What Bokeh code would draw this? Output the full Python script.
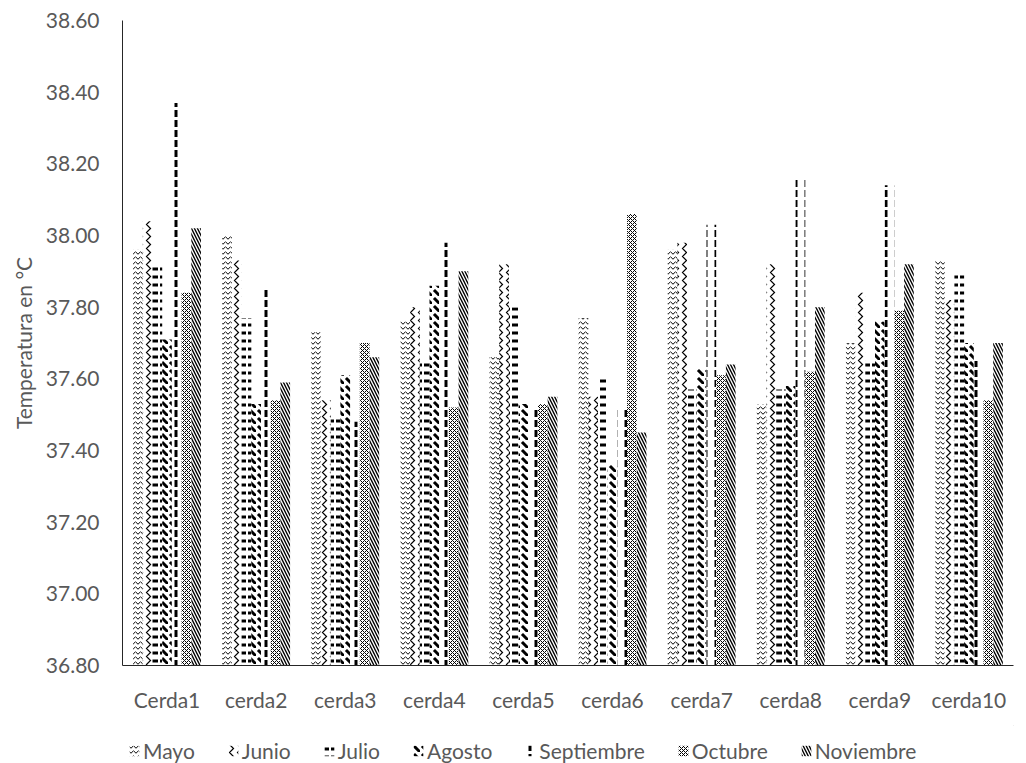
from bokeh.plotting import figure
from bokeh.layouts import column
from bokeh.models import (FactorRange, Range1d, Legend, LegendItem, ColumnDataSource,
                          FixedTicker, NumeralTickFormatter)
from bokeh.transform import dodge
from bokeh.embed import file_html
from bokeh.resources import INLINE

# Mean body temperature (°C) per sow and month
cerdas = ["Cerda1", "cerda2", "cerda3", "cerda4", "cerda5",
          "cerda6", "cerda7", "cerda8", "cerda9", "cerda10"]
meses = ["Mayo", "Junio", "Julio", "Agosto", "Septiembre", "Octubre", "Noviembre"]

mayo       = [37.96, 38.00, 37.73, 37.76, 37.66, 37.77, 37.96, 37.53, 37.70, 37.93]
junio      = [38.04, 37.93, 37.54, 37.80, 37.92, 37.55, 37.98, 37.92, 37.84, 37.82]
julio      = [37.92, 37.77, 37.49, 37.65, 37.80, 37.61, 37.57, 37.57, 37.65, 37.90]
agosto     = [37.71, 37.53, 37.61, 37.86, 37.53, 37.36, 37.63, 37.58, 37.76, 37.70]
septiembre = [38.37, 37.85, 37.48, 37.98, 37.52, 37.52, 38.03, 38.16, 38.14, 37.65]
octubre    = [37.84, 37.54, 37.70, 37.52, 37.53, 38.06, 37.61, 37.62, 37.79, 37.54]
noviembre  = [38.02, 37.59, 37.66, 37.90, 37.55, 37.45, 37.64, 37.80, 37.92, 37.70]

yticks = [36.80, 37.00, 37.20, 37.40, 37.60, 37.80, 38.00, 38.20, 38.40, 38.60]

series = [mayo, junio, julio, agosto, septiembre, octubre, noviembre]

# hatch pattern, scale and weight for each month
hatches = [
    ("v", 5, 1.0),     # Mayo
    (">", 8, 1.2),     # Junio
    ('"', 8, 3.0),     # Julio
    ("`", 8, 3.0),     # Agosto
    (":", 10, 3.0),    # Septiembre
    ("x", 4, 1.0),     # Octubre
    ("\\", 6, 1.4),    # Noviembre
]

FONT = "Lato"
TXT = "#595959"
FS = "21px"

data = {"cerda": cerdas}
for name, vals in zip(meses, series):
    data[name] = vals
source = ColumnDataSource(data)

p = figure(width=1026, height=725,
           x_range=FactorRange(*cerdas, range_padding=0, factor_padding=0),
           y_range=Range1d(36.8, 38.6),
           output_backend="svg", toolbar_location=None,
           min_border_left=122, min_border_right=13,
           min_border_top=20, min_border_bottom=60)

bar_w = 1.0 / (7 + 2.19)
for i, name in enumerate(meses):
    pat, sc, wt = hatches[i]
    p.vbar(x=dodge("cerda", (i - 3) * bar_w, range=p.x_range), top=name,
           bottom=36.8, width=bar_w, source=source,
           fill_color="white", line_color=None,
           hatch_pattern=pat, hatch_scale=sc, hatch_weight=wt,
           hatch_color="black")

# axes
p.xgrid.visible = False
p.ygrid.visible = False
p.outline_line_color = None

p.yaxis.ticker = FixedTicker(ticks=yticks)
p.yaxis.formatter = NumeralTickFormatter(format="0.00")
p.yaxis.axis_label = "Temperatura en °C"
p.yaxis.axis_label_text_font = FONT
p.yaxis.axis_label_text_font_size = FS
p.yaxis.axis_label_text_font_style = "normal"
p.yaxis.axis_label_text_color = TXT
p.yaxis.axis_label_standoff = 7

for ax in (p.xaxis[0], p.yaxis[0]):
    ax.major_label_text_font = FONT
    ax.major_label_text_font_size = FS
    ax.major_label_text_color = TXT
    ax.major_tick_line_color = None
    ax.minor_tick_line_color = None
    ax.major_tick_in = 0
    ax.major_tick_out = 0
    ax.minor_tick_in = 0
    ax.minor_tick_out = 0
    ax.axis_line_color = "#262626"
    ax.axis_line_width = 1

p.yaxis.major_label_standoff = 23
p.xaxis.major_label_standoff = 21

# legend strip under the chart, with swatches styled like the bars
leg = figure(width=1026, height=38, x_range=Range1d(0, 1), y_range=Range1d(0, 1),
             output_backend="svg", toolbar_location=None,
             x_axis_location=None, y_axis_location=None,
             min_border=0)
leg.xgrid.visible = False
leg.ygrid.visible = False
leg.outline_line_color = None

# one point outside the visible range so each swatch has a row to style from
swatch = ColumnDataSource(dict(x=[5.0], top=[5.0]))
items = []
for i, name in enumerate(meses):
    pat, sc, wt = hatches[i]
    r = leg.vbar(x="x", top="top", bottom=4.0, width=0.1, source=swatch,
                 fill_color="white", line_color=None,
                 hatch_pattern=pat, hatch_scale=sc, hatch_weight=wt,
                 hatch_color="black")
    items.append(LegendItem(label=name, renderers=[r]))

legend = Legend(items=items, orientation="horizontal", location=(6, 0),
                glyph_width=12, glyph_height=13, label_standoff=3, spacing=32,
                padding=0, margin=0,
                label_text_font=FONT, label_text_font_size=FS,
                label_text_color=TXT,
                background_fill_alpha=0, border_line_color=None)
leg.add_layout(legend)

layout = column(p, leg, spacing=0)
open("out.html", "w").write(file_html(layout, INLINE))
